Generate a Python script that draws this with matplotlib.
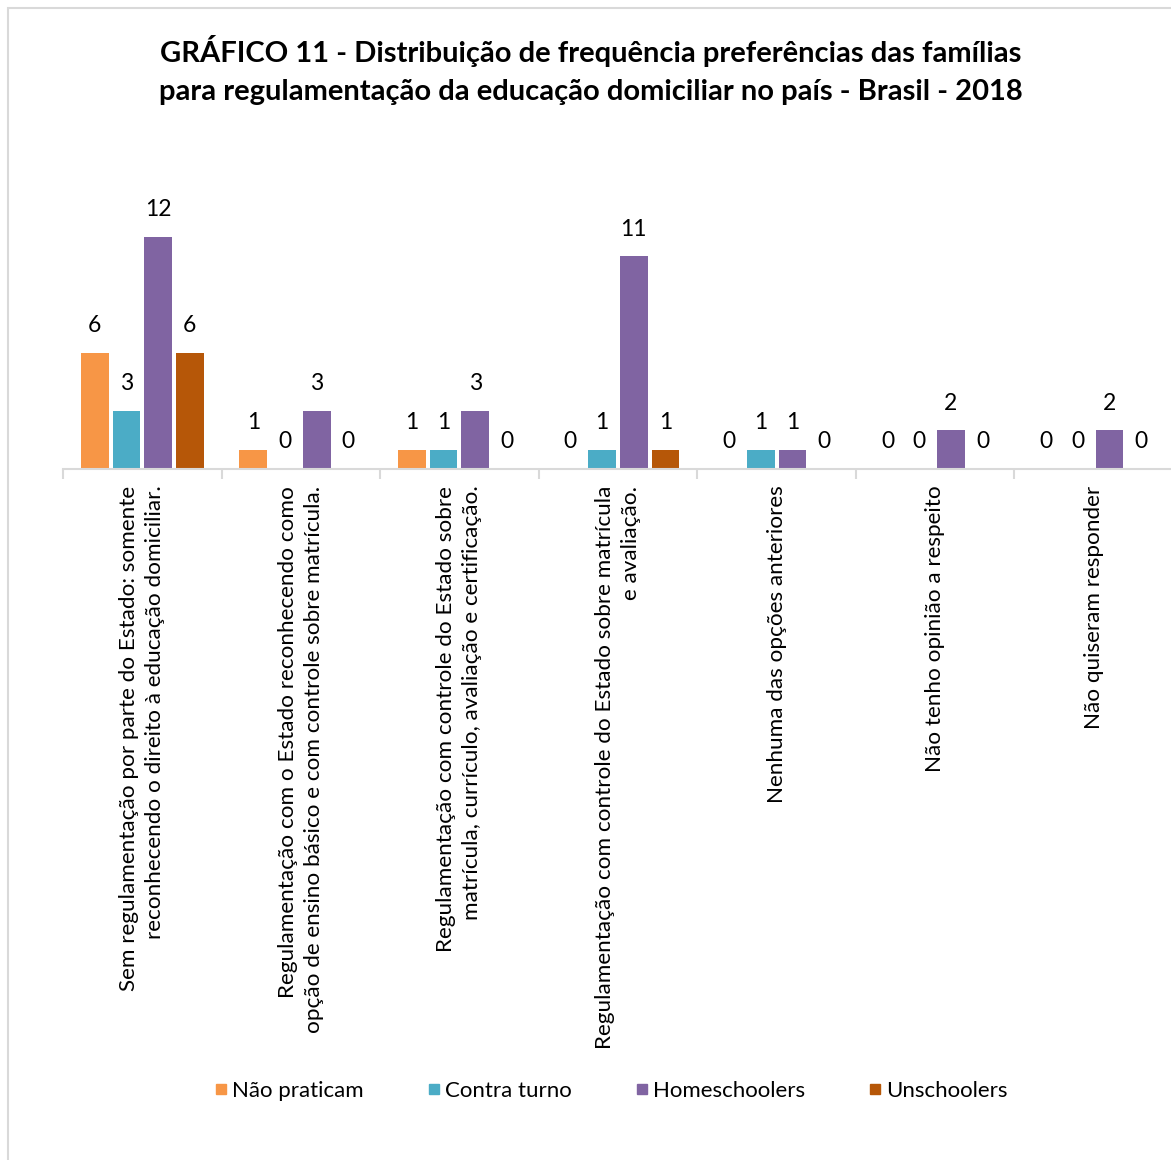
import matplotlib
matplotlib.use("Agg")
import matplotlib.pyplot as plt
from matplotlib.lines import Line2D
from matplotlib.patches import Rectangle
import numpy as np

plt.rcParams["font.family"] = ["Lato", "DejaVu Sans"]

TITLE = ("GRÁFICO 11 - Distribuição de frequência preferências das famílias\n"
         "para regulamentação da educação domiciliar no país - Brasil - 2018")

CATEGORIES = [
    "Sem regulamentação por parte do Estado: somente\nreconhecendo o direito à educação domiciliar.",
    "Regulamentação com o Estado reconhecendo como\nopção de ensino básico e com controle sobre matrícula.",
    "Regulamentação com controle do Estado sobre\nmatrícula, currículo, avaliação e certificação.",
    "Regulamentação com controle do Estado sobre matrícula\ne avaliação.",
    "Nenhuma das opções anteriores",
    "Não tenho opinião a respeito",
    "Não quiseram responder",
]

SERIES = ["Não praticam", "Contra turno", "Homeschoolers", "Unschoolers"]
nao_praticam = [6, 1, 1, 0, 0, 0, 0]
contra_turno = [3, 0, 1, 1, 1, 0, 0]
homeschoolers = [12, 3, 3, 11, 1, 2, 2]
unschoolers = [6, 0, 0, 1, 0, 0, 0]
VALUES = [nao_praticam, contra_turno, homeschoolers, unschoolers]
COLORS = ["#F79646", "#4BACC6", "#8064A2", "#B65708"]

W, H = 1171, 1160
fig = plt.figure(figsize=(W / 100, H / 100), dpi=100)

# light frame around the whole chart
fig.patches.append(Rectangle((8 / W, -0.01), 1.05, (H - 8) / H + 0.01,
                             transform=fig.transFigure, fill=False,
                             edgecolor="#D9D9D9", linewidth=1.5))

ax_left, ax_right = 63 / W, 1173 / W
ax_bottom, ax_top = (H - 469) / H, (H - 150) / H
ax = fig.add_axes([ax_left, ax_bottom, ax_right - ax_left, ax_top - ax_bottom])
ax.set_facecolor("none")

x = np.arange(len(CATEGORIES))
step, width = 0.2, 0.175
for j, (vals, color) in enumerate(zip(VALUES, COLORS)):
    pos = x + (j - 1.5) * step
    ax.bar(pos, vals, width=width, color=color, zorder=2)
    for px, v in zip(pos, vals):
        ax.annotate(str(v), (px, v), xytext=(0, 15), textcoords="offset points",
                    ha="center", va="baseline", fontsize=16.5, color="black")

ax.set_xlim(-0.5, len(CATEGORIES) - 0.5)
ax.set_ylim(0, (469 - 150) / 19.33)

for side in ["top", "right", "left"]:
    ax.spines[side].set_visible(False)
ax.spines["bottom"].set_color("#D9D9D9")
ax.spines["bottom"].set_linewidth(1.5)
ax.set_yticks([])

ax.set_xticks(x)
ax.set_xticklabels(CATEGORIES, rotation=90, ha="center", va="top",
                   multialignment="right", fontsize=16.2, color="black",
                   linespacing=1.38)
ax.tick_params(axis="x", which="major", length=0, pad=12)
ax.set_xticks(np.arange(len(CATEGORIES) + 1) - 0.5, minor=True)
ax.tick_params(axis="x", which="minor", length=7, width=1.5, color="#D9D9D9")

fig.text(591 / W, 1 - 70 / H, TITLE, ha="center", va="center",
         fontsize=21, fontweight="bold", linespacing=1.6)

handles = [Line2D([], [], marker="s", linestyle="none", markersize=7,
                  markerfacecolor=c, markeredgecolor=c) for c in COLORS]
fig.legend(handles, SERIES, loc="center", bbox_to_anchor=(610 / W, 1 - 1091 / H),
           ncol=4, frameon=False, fontsize=16, handletextpad=0.1,
           columnspacing=2.75, handlelength=0.8)

fig.savefig("out.png", dpi=100)
